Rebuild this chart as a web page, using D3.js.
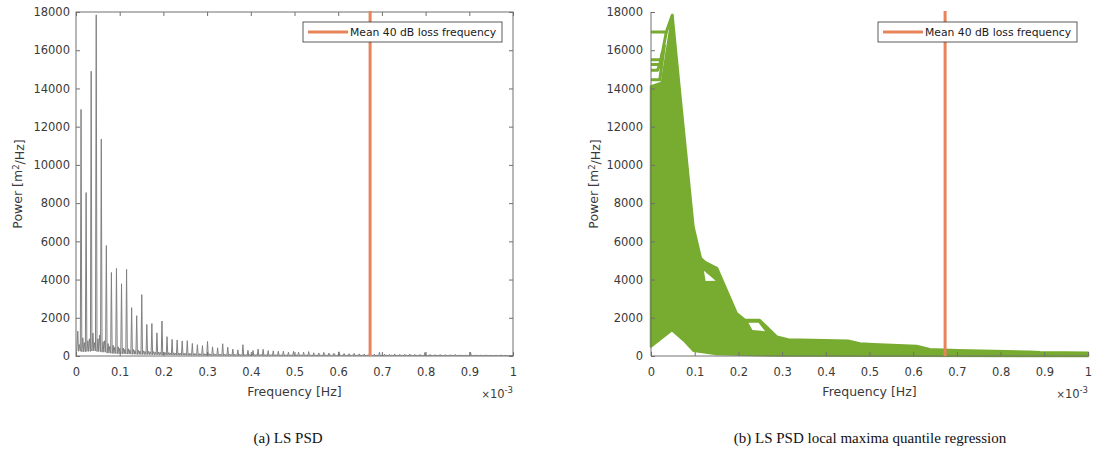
<!DOCTYPE html>
<html>
<head>
<meta charset="utf-8">
<script src="https://cdn.jsdelivr.net/npm/d3@7"></script>
<style>
  body { margin: 0; background: #fff; }
  svg { display: block; }
</style>
</head>
<body>
<svg id="fig" width="1093" height="454"></svg>
<script>
// ---------- shared axis settings ----------
const xTicks = [0, 0.1, 0.2, 0.3, 0.4, 0.5, 0.6, 0.7, 0.8, 0.9, 1];
const xTickLabels = ["0", "0.1", "0.2", "0.3", "0.4", "0.5", "0.6", "0.7", "0.8", "0.9", "1"];
const yTicks = [0, 2000, 4000, 6000, 8000, 10000, 12000, 14000, 16000, 18000];
const yTickLabels = ["0", "2000", "4000", "6000", "8000", "10000", "12000", "14000", "16000", "18000"];
const xDomain = [0, 1];        // frequency, x 10^-3 Hz
const yDomain = [0, 18000];    // power, m^2/Hz

// mean frequency at which the spectrum has lost 40 dB (x 10^-3 Hz)
const lossFrequency = 0.673;
const legendLabel = "Mean 40 dB loss frequency";

// ---------- (a) Lomb-Scargle PSD ----------
// daily cycle: harmonics sit at multiples of 1/86400 Hz (x 10^-3 Hz)
const dailyHarmonic = 0.011574;
// power at harmonics 1..86
const peakPower = [
  12900, 8550, 14900, 17850, 11350, 5780, 4370, 4580, 3780, 4530,
  2530, 2110, 3210, 1650, 1700, 1210, 1830, 1010, 870, 840,
  790, 800, 655, 590, 545, 760, 480, 430, 640, 460,
  360, 320, 590, 300, 290, 360, 350, 280, 270, 250,
  250, 200, 250, 200, 200, 230, 170, 160, 190, 150,
  140, 220, 130, 120, 140, 110, 110, 120, 100, 200,
  100, 90, 110, 90, 90, 100, 80, 80, 190, 80,
  70, 80, 70, 70, 80, 60, 60, 200, 60, 60,
  60, 55, 55, 60, 50, 50
];
// side lobes and troughs inside each interval between harmonics (0..86)
const lobeA = [
  1300, 950, 800, 1200, 900, 750, 650, 560, 480, 420,
  380, 340, 300, 270, 250, 230, 210, 200, 180, 170,
  160, 150, 140, 130, 125, 120, 115, 110, 105, 100,
  95, 90, 88, 85, 82, 80, 78, 75, 72, 70,
  68, 66, 64, 62, 60, 58, 56, 55, 54, 52,
  50, 49, 48, 47, 46, 45, 44, 43, 42, 41,
  40, 40, 39, 38, 38, 37, 36, 36, 35, 35,
  34, 34, 33, 33, 32, 32, 31, 31, 30, 30,
  30, 29, 29, 28, 28, 28, 27
];
const lobeB = [
  600, 700, 900, 700, 1100, 800, 500, 450, 400, 350,
  320, 290, 260, 240, 220, 200, 190, 175, 160, 150,
  140, 130, 125, 118, 112, 106, 100, 96, 92, 88,
  84, 80, 78, 75, 72, 70, 68, 66, 64, 62,
  60, 58, 56, 54, 53, 52, 50, 49, 48, 47,
  46, 45, 44, 43, 42, 41, 40, 39, 38, 38,
  37, 36, 36, 35, 35, 34, 34, 33, 33, 32,
  32, 31, 31, 30, 30, 29, 29, 28, 28, 27,
  27, 26, 26, 25, 25, 25, 24
];
const trough = [
  250, 220, 240, 260, 230, 200, 150, 130, 120, 110,
  100, 90, 80, 75, 70, 65, 60, 55, 50, 48,
  45, 42, 40, 38, 36, 34, 32, 30, 28, 26,
  25, 24, 23, 22, 21, 20, 19, 18, 18, 17,
  17, 16, 16, 16, 15, 15, 15, 15, 14, 14,
  14, 14, 13, 13, 13, 13, 12, 12, 12, 12,
  12, 11, 11, 11, 11, 11, 10, 10, 10, 10,
  10, 10, 10, 9, 9, 9, 9, 9, 9, 9,
  8, 8, 8, 8, 8, 8, 8
];

// ---------- (b) quantile regression of local maxima ----------
// outer boundary of the bundle of regression curves (upper, then lower)
const qrUpper = [
  [0, 14100], [0.025, 14300], [0.049, 17850], [0.068, 13400], [0.097, 6770],
  [0.114, 5120], [0.125, 4900], [0.151, 4600], [0.196, 2240], [0.215, 1880],
  [0.249, 1880], [0.288, 1010], [0.314, 860], [0.451, 800], [0.478, 650],
  [0.509, 610], [0.608, 520], [0.638, 350], [0.70, 300], [0.867, 225],
  [0.89, 190], [1.0, 170]
];
const qrLower = [
  [0, 500], [0.048, 1360], [0.078, 750], [0.097, 280], [0.15, 100],
  [0.3, 20], [1.0, 0]
];
// gaps left open between neighbouring curves
const qrGaps = [
  [[0.121, 4460], [0.148, 3940], [0.125, 3920]],
  [[0.223, 1740], [0.246, 1740], [0.261, 1300], [0.232, 1360]]
];
// individual high curves separating from the bundle near 0 Hz
const qrStrays = [
  [[0, 16950], [0.035, 16950], [0.049, 17850]],
  [[0, 15500], [0.023, 15500], [0.035, 16950]],
  [[0, 15250], [0.02, 15250], [0.026, 15900]],
  [[0, 14950], [0.015, 14950], [0.02, 15250]],
  [[0, 14450], [0.02, 14450], [0.031, 16300]]
];

// ---------- styling ----------
const axisColor = "#707070";
const textColor = "#3a3a3a";
const psdColor = "#808080";
const qrColor = "#77AC30";
const lossColor = "#E8845A";
const sansFont = "DejaVu Sans";

const svg = d3.select("#fig");
const plotTop = 12, plotBottom = 356;
const panels = [
  { id: "a", x0: 76, x1: 513, box: true, labelGap: 6, yLabelX: 18, caption: "(a) LS PSD", captionX: 288 },
  { id: "b", x0: 651, x1: 1088, box: false, labelGap: 8, yLabelX: 594, caption: "(b) LS PSD local maxima quantile regression", captionX: 870 }
];

function drawFrame(p, x, y) {
  const g = svg.append("g");
  const xAxis = d3.axisBottom(x).tickValues(xTicks)
    .tickFormat((d, i) => xTickLabels[i]).tickSizeInner(-4).tickSizeOuter(0).tickPadding(12);
  const yAxis = d3.axisLeft(y).tickValues(yTicks)
    .tickFormat((d, i) => yTickLabels[i]).tickSizeInner(-4).tickSizeOuter(0).tickPadding(p.labelGap);

  const gx = g.append("g").attr("transform", `translate(0,${plotBottom})`).call(xAxis);
  const gy = g.append("g").attr("transform", `translate(${p.x0},0)`).call(yAxis);
  [gx, gy].forEach(a => {
    a.select(".domain").remove();
    a.selectAll("line").attr("stroke", axisColor);
    a.selectAll("text").attr("fill", textColor).attr("font-family", sansFont).attr("font-size", 11.5);
  });

  if (p.box) {
    const gt = g.append("g").attr("transform", `translate(0,${plotTop})`)
      .call(d3.axisTop(x).tickValues(xTicks).tickFormat("").tickSizeInner(-4).tickSizeOuter(0));
    const gr = g.append("g").attr("transform", `translate(${p.x1},0)`)
      .call(d3.axisRight(y).tickValues(yTicks).tickFormat("").tickSizeInner(-4).tickSizeOuter(0));
    [gt, gr].forEach(a => { a.select(".domain").remove(); a.selectAll("line").attr("stroke", axisColor); });
    g.append("rect").attr("x", p.x0).attr("y", plotTop).attr("width", p.x1 - p.x0).attr("height", plotBottom - plotTop)
      .attr("fill", "none").attr("stroke", axisColor).attr("stroke-width", 1);
  } else {
    g.append("path").attr("d", `M${p.x0},${plotTop}V${plotBottom}H${p.x1}`)
      .attr("fill", "none").attr("stroke", axisColor).attr("stroke-width", 1);
  }

  // axis labels
  svg.append("text").attr("x", (p.x0 + p.x1) / 2).attr("y", 396)
    .attr("text-anchor", "middle").attr("font-family", sansFont).attr("font-size", 12.5).attr("fill", textColor)
    .text("Frequency [Hz]");

  const yl = svg.append("text")
    .attr("transform", `translate(${p.yLabelX},${(plotTop + plotBottom) / 2}) rotate(-90)`)
    .attr("dy", "0.35em").attr("text-anchor", "middle")
    .attr("font-family", sansFont).attr("font-size", 12.5).attr("fill", textColor);
  yl.append("tspan").text("Power [m");
  yl.append("tspan").attr("dy", "-0.45em").attr("font-size", 8.5).text("2");
  yl.append("tspan").attr("dy", "0.45em").text("/Hz]");

  // exponent of the frequency axis
  const ex = svg.append("text").attr("x", p.x1).attr("y", 398).attr("text-anchor", "end")
    .attr("font-family", sansFont).attr("font-size", 11.5).attr("fill", textColor);
  ex.append("tspan").attr("font-size", 10).text("\u00d7");
  ex.append("tspan").text("10");
  ex.append("tspan").attr("dy", "-0.6em").attr("font-size", 8.5).text("-3");

  // caption
  svg.append("text").attr("x", p.captionX).attr("y", 443).attr("text-anchor", "middle")
    .attr("font-family", "Liberation Serif").attr("font-size", 15).attr("fill", "#111")
    .text(p.caption);
}

function drawLossLine(p, x) {
  svg.append("line").attr("x1", x(lossFrequency)).attr("x2", x(lossFrequency))
    .attr("y1", plotTop - 1).attr("y2", plotBottom)
    .attr("stroke", lossColor).attr("stroke-width", 3);
}

function drawLegend(lx) {
  const g = svg.append("g").attr("transform", `translate(${lx},22)`);
  g.append("rect").attr("width", 199).attr("height", 20)
    .attr("fill", "#fff").attr("stroke", "#333").attr("stroke-width", 0.8);
  g.append("line").attr("x1", 5).attr("x2", 45).attr("y1", 10).attr("y2", 10)
    .attr("stroke", lossColor).attr("stroke-width", 3);
  g.append("text").attr("x", 47).attr("y", 14.3)
    .attr("font-family", sansFont).attr("font-size", 10.8).attr("fill", "#1a1a1a")
    .text(legendLabel);
}

// ---------- panel (a) ----------
{
  const p = panels[0];
  const x = d3.scaleLinear().domain(xDomain).range([p.x0, p.x1]);
  const y = d3.scaleLinear().domain(yDomain).range([plotBottom, plotTop]);

  svg.append("clipPath").attr("id", "clipA").append("rect")
    .attr("x", p.x0).attr("y", plotTop - 2).attr("width", p.x1 - p.x0).attr("height", plotBottom - plotTop + 2);

  // spectrum: each harmonic peak followed by the side lobes of its interval
  const psd = [[0, trough[0]]];
  for (let i = 0; i < lobeA.length; i++) {
    const base = i * dailyHarmonic;
    if (i > 0) psd.push([base, peakPower[i - 1]]);
    psd.push([base + 0.15 * dailyHarmonic, trough[i]]);
    psd.push([base + 0.35 * dailyHarmonic, lobeA[i]]);
    psd.push([base + 0.50 * dailyHarmonic, trough[i]]);
    psd.push([base + 0.65 * dailyHarmonic, lobeB[i]]);
    psd.push([base + 0.85 * dailyHarmonic, trough[i]]);
  }
  const line = d3.line().x(d => x(d[0])).y(d => y(d[1]));
  svg.append("path").attr("clip-path", "url(#clipA)")
    .attr("d", line(psd)).attr("fill", "none")
    .attr("stroke", psdColor).attr("stroke-width", 1).attr("stroke-linejoin", "miter");

  drawFrame(p, x, y);
  drawLossLine(p, x);
  drawLegend(303);
}

// ---------- panel (b) ----------
{
  const p = panels[1];
  const x = d3.scaleLinear().domain(xDomain).range([p.x0, p.x1]);
  const y = d3.scaleLinear().domain(yDomain).range([plotBottom, plotTop]);
  const line = d3.line().x(d => x(d[0])).y(d => y(d[1]));

  const outline = qrUpper.concat(qrLower.slice().reverse());
  const outerPath = line(outline) + "Z";
  const gapPaths = qrGaps.map(gp => line(gp) + "Z").join("");

  svg.append("path").attr("d", outerPath + gapPaths)
    .attr("fill", qrColor).attr("fill-rule", "evenodd").attr("stroke", "none");
  svg.append("path").attr("d", outerPath)
    .attr("fill", "none").attr("stroke", qrColor).attr("stroke-width", 2.5).attr("stroke-linejoin", "round");
  svg.selectAll(".stray").data(qrStrays).enter().append("path")
    .attr("d", d => line(d)).attr("fill", "none")
    .attr("stroke", qrColor).attr("stroke-width", 3).attr("stroke-linejoin", "round");

  drawFrame(p, x, y);
  drawLossLine(p, x);
  drawLegend(878);
}
</script>
</body>
</html>
